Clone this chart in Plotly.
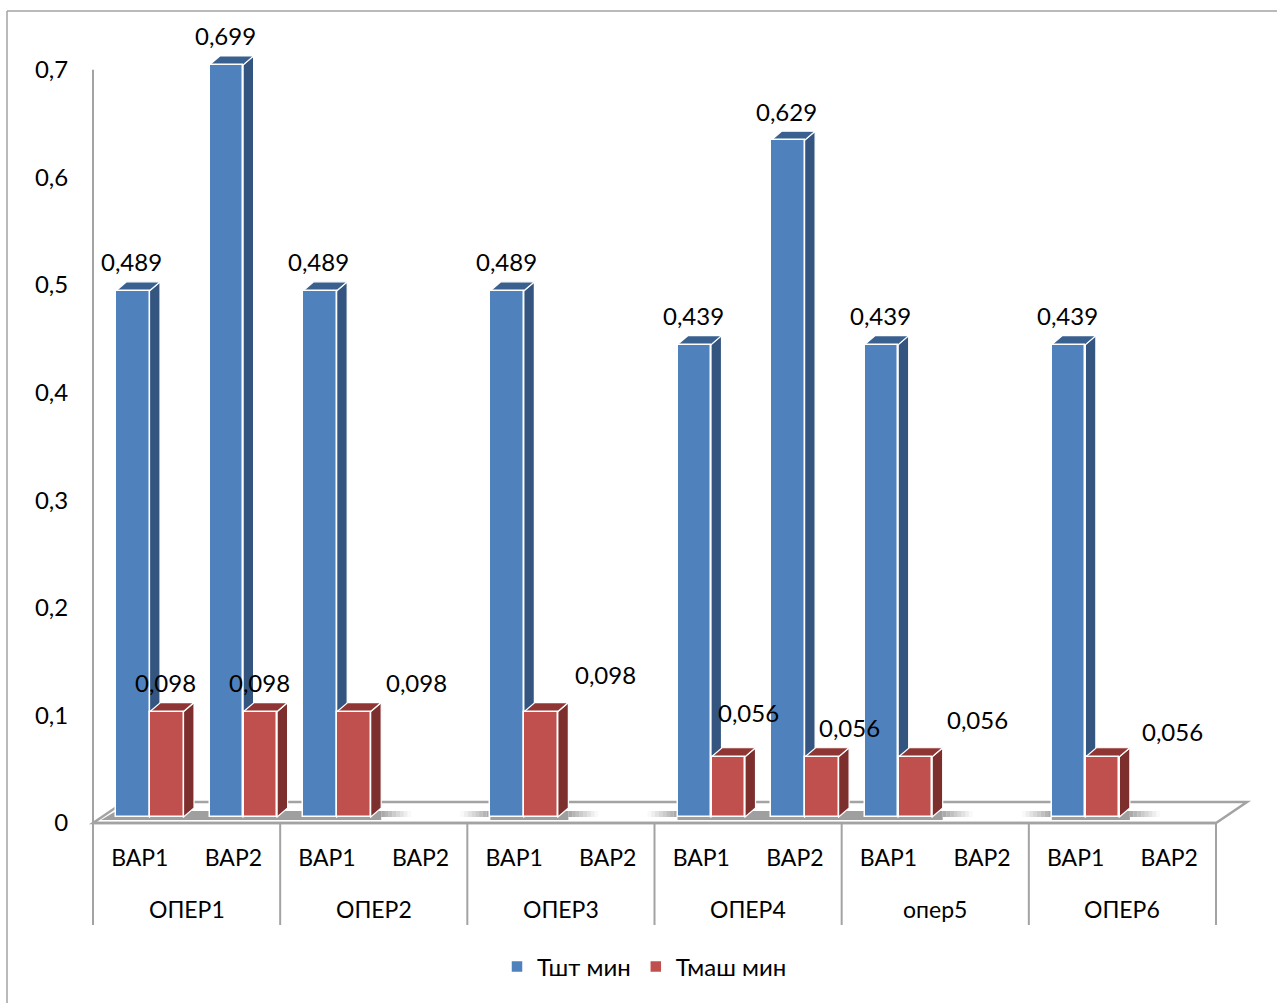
import numpy as np
import plotly.graph_objects as go

# ---------- data ----------
OPERATIONS = ["ОПЕР1", "ОПЕР2", "ОПЕР3", "ОПЕР4", "опер5", "ОПЕР6"]
VARIANTS = ["ВАР1", "ВАР2"]
T_SHT = [0.489, 0.699, 0.489, None, 0.489, None, 0.439, 0.629, 0.439, None, 0.439, None]
T_MASH = [0.098, 0.098, 0.098, None, 0.098, None, 0.056, 0.056, 0.056, None, 0.056, None]
Y_TICKS = [0, 0.1, 0.2, 0.3, 0.4, 0.5, 0.6, 0.7]
SERIES_NAMES = ["Тшт мин", "Тмаш мин"]

# ---------- layout constants ----------
W, H = 1277, 1003
AX_L, AX_R, AX_B = 93, 1216, 823      # pixel anchors of the axes
PX_Y = 1076.0                         # pixels per unit of value
PX_X = (AX_R - AX_L) / 12.0           # pixels per category slot
FONT = "Lato, Carlito, 'Noto Sans', sans-serif"
FS = 24
FS_CAT = 23
GREY = "#a3a3a3"
BLUE, BLUE_SIDE, BLUE_TOP = "#4F81BD", "#34557F", "#39608F"
RED, RED_SIDE, RED_TOP = "#C0504D", "#7D2F2E", "#8F3634"

dx = 10.5 / PX_X     # bar depth, x units
dy = 9 / PX_Y        # bar depth, y units
base = 6 / PX_Y      # bars stand on the floor, above the axis front edge
bar_w = 33.5 / PX_X
off_blue = -0.254
off_red = off_blue + bar_w + 0.5 / PX_X
floor_dx = 31 / PX_X
floor_dy = 21 / PX_Y

idx = np.arange(12)
xrange_ = [-0.5 - AX_L / PX_X, 11.5 + (W - AX_R) / PX_X]
yrange_ = [(AX_B - H) / PX_Y, AX_B / PX_Y]


def poly(pts, fill, line="white", lw=1.2, opacity=1.0):
    path = "M" + "L".join(f"{x:.4f},{y:.5f}" for x, y in pts) + "Z"
    return dict(type="path", path=path, xref="x", yref="y", fillcolor=fill, opacity=opacity,
                line=dict(color=line, width=lw), layer="below")


def seg(x0, y0, x1, y1, lw=2):
    return dict(type="line", x0=x0, y0=y0, x1=x1, y1=y1, xref="x", yref="y",
                line=dict(color=GREY, width=lw), layer="below")


shapes = []
# outer frame of the picture
shapes.append(dict(type="line", xref="paper", yref="paper", x0=7 / W, x1=1, y0=1 - 11 / H, y1=1 - 11 / H,
                   line=dict(color=GREY, width=1.5)))
shapes.append(dict(type="line", xref="paper", yref="paper", x0=7 / W, x1=7 / W, y0=0, y1=1 - 11 / H,
                   line=dict(color=GREY, width=1.5)))

# floor
xl, xr = -0.5, 11.5
shapes.append(poly([(xl, 0), (xl + floor_dx, floor_dy), (xr + floor_dx, floor_dy), (xr, 0)], "white", GREY, 2.5))

# shadows of bar clusters on the floor
sh_lo, sh_hi = 3 / PX_Y, 12 / PX_Y
clusters, cur = [], []
for i, v in enumerate(T_SHT):
    if v is not None:
        cur.append(i)
    elif cur:
        clusters.append(cur)
        cur = []
if cur:
    clusters.append(cur)
for n, c in enumerate(clusters):
    left = c[0] + off_blue
    right = c[-1] + off_red + bar_w + dx
    shapes.append(poly([(left, sh_lo), (left, sh_hi), (right, sh_hi), (right, sh_lo)], "#9f9f9f", "rgba(0,0,0,0)", 0))
    steps = 8
    fade = 30 / PX_X
    for s in range(steps):
        a, b = s * fade / steps, (s + 1) * fade / steps
        op = 0.95 * (1 - (s + 0.5) / steps)
        shapes.append(poly([(right + a, sh_lo + 3 / PX_Y), (right + a, sh_hi), (right + b, sh_hi), (right + b, sh_lo + 3 / PX_Y)],
                           "#9f9f9f", "rgba(0,0,0,0)", 0, op))
        if n > 0:
            shapes.append(poly([(left - a, sh_lo + 3 / PX_Y), (left - a, sh_hi), (left - b, sh_hi), (left - b, sh_lo + 3 / PX_Y)],
                               "#9f9f9f", "rgba(0,0,0,0)", 0, op))
    if n == 0:
        shapes.append(poly([(left - 15 / PX_X, sh_lo), (left, sh_hi), (left, sh_lo)], "#9f9f9f", "rgba(0,0,0,0)", 0))

# front edge, y axis and group dividers
shapes.append(seg(xl, 0, xr, 0, 2.5))
shapes.append(seg(xl, 0, xl, 0.7, 2))
div_low = (AX_B - 925) / PX_Y
for g in range(len(OPERATIONS) + 1):
    shapes.append(seg(xl + 2 * g, 0, xl + 2 * g, div_low, 2))

# side and top faces of the bars, computed from the values
for i in idx:
    for vals, off, side, top in ((T_SHT, off_blue, BLUE_SIDE, BLUE_TOP), (T_MASH, off_red, RED_SIDE, RED_TOP)):
        v = vals[i]
        if v is None:
            continue
        l, r = i + off, i + off + bar_w
        b, t = base, base + v
        shapes.append(poly([(r, b), (r + dx, b + dy), (r + dx, t + dy), (r, t)], side))
        shapes.append(poly([(l, t), (l + dx, t + dy), (r + dx, t + dy), (r, t)], top))

fig = go.Figure()
for name, vals, off, col in ((SERIES_NAMES[0], T_SHT, off_blue, BLUE), (SERIES_NAMES[1], T_MASH, off_red, RED)):
    fig.add_trace(go.Bar(name=name, x=idx, y=vals, base=base, offset=off, width=bar_w,
                         marker=dict(color=col, line=dict(color="white", width=1.5)), cliponaxis=False))


def fmt(v):
    return f"{v:.3f}".replace(".", ",")


annotations = []
# label anchors relative to each bar's top, in pixels
RED_LABEL_SHIFT = {0: (-1, 29), 1: (-1, 29), 2: (63, 29), 4: (64, 37),
                   6: (20, 44), 7: (28, 29), 8: (62, 37), 10: (70, 25)}
for i in idx:
    if T_SHT[i] is not None:
        annotations.append(dict(x=i + off_blue + bar_w / 2, y=base + T_SHT[i], text=fmt(T_SHT[i]), xref="x", yref="y",
                                showarrow=False, xshift=-1, yshift=29, font=dict(family=FONT, size=FS, color="black")))
    if T_MASH[i] is not None:
        sx, sy = RED_LABEL_SHIFT[int(i)]
        annotations.append(dict(x=i + off_red + bar_w / 2, y=base + T_MASH[i], text=fmt(T_MASH[i]), xref="x", yref="y",
                                showarrow=False, xshift=sx, yshift=sy, font=dict(family=FONT, size=FS, color="black")))
# group labels under the variant labels
for g, op in enumerate(OPERATIONS):
    annotations.append(dict(x=2 * g + 0.5, y=(AX_B - 908.5) / PX_Y, text=op, xref="x", yref="y", showarrow=False,
                            font=dict(family=FONT, size=FS_CAT, color="black")))

fig.update_layout(
    width=W, height=H, autosize=False,
    margin=dict(l=0, r=0, t=0, b=0, pad=0),
    paper_bgcolor="white", plot_bgcolor="rgba(0,0,0,0)",
    barmode="overlay", bargap=0,
    shapes=shapes, annotations=annotations,
    font=dict(family=FONT, size=FS, color="black"),
    hovermode=False,
    xaxis=dict(domain=[0, 1], range=xrange_, anchor="free", position=1 - AX_B / H,
               tickmode="array", tickvals=list(idx), ticktext=[VARIANTS[i % 2] for i in idx],
               ticks="outside", ticklen=14, tickcolor="rgba(0,0,0,0)", showline=False, showgrid=False, zeroline=False,
               tickfont=dict(family=FONT, size=FS_CAT, color="black"), automargin=False),
    yaxis=dict(domain=[0, 1], range=yrange_, anchor="free", position=AX_L / W,
               tickmode="array", tickvals=Y_TICKS,
               ticktext=[("0" if t == 0 else f"{t:.1f}".replace(".", ",")) for t in Y_TICKS],
               ticks="outside", ticklen=20, tickcolor="rgba(0,0,0,0)", showline=False, showgrid=False, zeroline=False,
               tickfont=dict(family=FONT, size=FS, color="black"), automargin=False),
    legend=dict(orientation="h", x=497 / W, xanchor="left", y=1 - 967 / H, yanchor="middle",
                bgcolor="rgba(0,0,0,0)", font=dict(family=FONT, size=FS, color="black")),
)

fig.write_html("out.html", post_script="document.body.style.margin='0';", config=dict(displayModeBar=False))
